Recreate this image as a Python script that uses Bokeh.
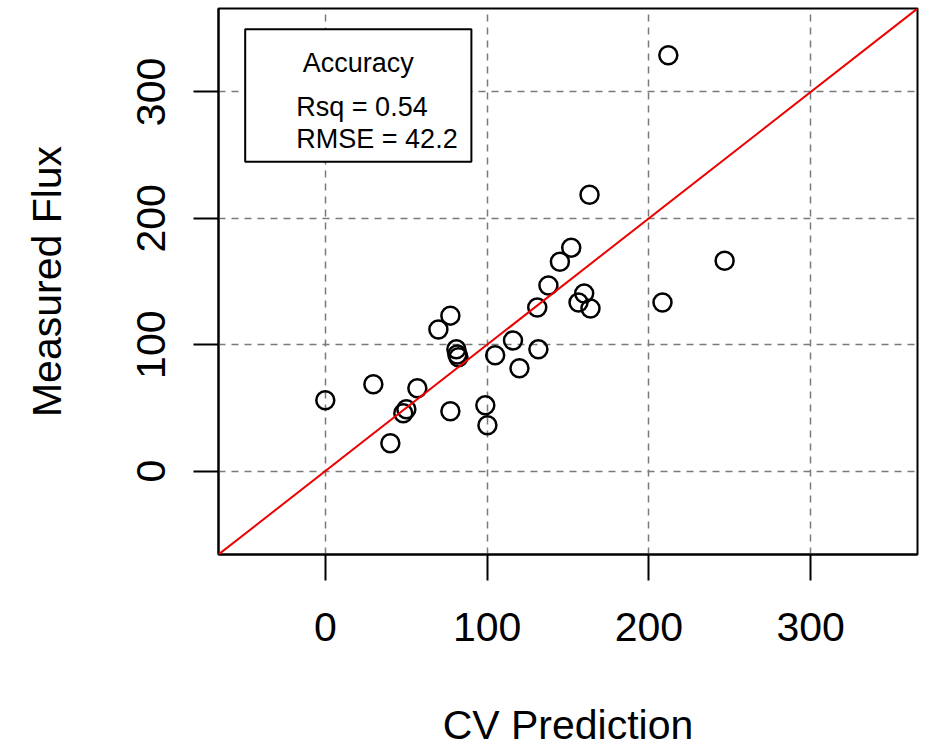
from bokeh.plotting import figure
from bokeh.models import Range1d, BoxAnnotation, Label, Slope, FixedTicker
from bokeh.embed import file_html
from bokeh.resources import INLINE

# ---- data ----
cv_prediction = [0, 29.7, 40.2, 48.2, 50.1, 56.9, 69.9, 77.3, 77.3, 81.0, 81.6, 82.3,
                 98.9, 100.2, 105.0, 116.0, 120.0, 131.0, 131.7, 137.9, 145.0, 152.0,
                 156.5, 160.0, 163.9, 163.3, 208.4, 212.0, 246.8]
measured_flux = [56, 68.7, 22, 45.8, 49, 65.5, 112, 123, 47.4, 96.3, 92.3, 90,
                 52, 36.3, 91.6, 103.4, 81.3, 129.4, 96.3, 146.8, 165.7, 176.8,
                 133.4, 140.5, 128.6, 218.6, 133.4, 329, 166.5]
ticks = [0, 100, 200, 300]
legend_title = "Accuracy"
legend_lines = ["Rsq = 0.54", "RMSE = 42.2"]
x_title = "CV Prediction"
y_title = "Measured Flux"

FONT = "Liberation Sans"

p = figure(width=920, height=750, output_backend="svg", toolbar_location=None,
           x_range=Range1d(-66, 366), y_range=Range1d(-66, 366),
           min_border_left=218, min_border_right=3, min_border_top=8, min_border_bottom=196,
           background_fill_color="white", border_fill_color="white")

p.outline_line_color = "black"
p.outline_line_width = 2

# grid
for g in (p.xgrid, p.ygrid):
    g.ticker = FixedTicker(ticks=ticks)
    g.grid_line_color = "#7a7a7a"
    g.grid_line_width = 1.5
    g.grid_line_dash = "7 6"

# axes
for ax in (p.xaxis, p.yaxis):
    ax.ticker = FixedTicker(ticks=ticks)
    ax.minor_tick_line_color = None
    ax.major_tick_in = 0
    ax.major_tick_line_width = 2
    ax.major_tick_line_color = "black"
    ax.axis_line_color = "black"
    ax.axis_line_width = 2
    ax.major_label_text_font = FONT
    ax.major_label_text_font_size = "41px"
    ax.major_label_text_color = "black"
    ax.axis_label_text_font = FONT
    ax.axis_label_text_font_size = "41px"
    ax.axis_label_text_font_style = "normal"
    ax.axis_label_text_color = "black"

p.xaxis.major_tick_out = 26
p.yaxis.major_tick_out = 25
p.xaxis.major_label_standoff = 32
p.yaxis.major_label_standoff = 28
p.yaxis.major_label_orientation = "vertical"
p.xaxis.axis_label = x_title
p.yaxis.axis_label = y_title
p.xaxis.axis_label_standoff = 58
p.yaxis.axis_label_standoff = 65

# 1:1 line
p.add_layout(Slope(gradient=1, y_intercept=0, line_color="#ee0000", line_width=2))

# points
p.scatter(cv_prediction, measured_flux, marker="circle", size=18,
          fill_color=None, line_color="black", line_width=2.5)

# legend box
p.add_layout(BoxAnnotation(left=-49.5, right=90.3, top=349.6, bottom=244.7,
                           fill_color="white", fill_alpha=1.0,
                           line_color="black", line_width=2, line_alpha=1.0))
p.add_layout(Label(x=20.4, y=322.8, text=legend_title, text_align="center",
                   text_baseline="alphabetic", text_font=FONT, text_font_size="27px",
                   text_color="black"))
for txt, yy in zip(legend_lines, [288.0, 262.8]):
    p.add_layout(Label(x=-17.9, y=yy, text=txt, text_align="left",
                       text_baseline="alphabetic", text_font=FONT, text_font_size="27px",
                       text_color="black"))

open("out.html", "w").write(file_html(p, INLINE))
